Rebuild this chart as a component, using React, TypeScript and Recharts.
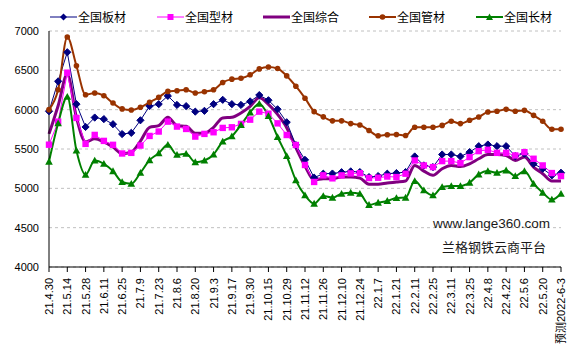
import React from "react";
import { LineChart, Line, XAxis, YAxis, CartesianGrid } from "recharts";

const categories: string[] = [
  "21.4.30", "21.5.7", "21.5.14", "21.5.21", "21.5.28", "21.6.4", "21.6.11", "21.6.18",
  "21.6.25", "21.7.2", "21.7.9", "21.7.16", "21.7.23", "21.7.30", "21.8.6", "21.8.13",
  "21.8.20", "21.8.27", "21.9.3", "21.9.10", "21.9.17", "21.9.24", "21.9.30", "21.10.8",
  "21.10.15", "21.10.22", "21.10.29", "21.11.5", "21.11.12", "21.11.19", "21.11.26", "21.12.3",
  "21.12.10", "21.12.17", "21.12.24", "21.12.31", "22.1.7", "22.1.14", "22.1.21", "22.1.28",
  "22.2.11", "22.2.18", "22.2.25", "22.3.4", "22.3.11", "22.3.18", "22.3.25", "22.4.1",
  "22.4.8", "22.4.15", "22.4.22", "22.4.29", "22.5.6", "22.5.13", "22.5.20", "22.5.27",
  "预测2022-6-3",
];

const plate: number[] = [
  5980, 6360, 6730, 6070, 5780, 5900, 5880, 5815, 5690, 5705, 5865, 6045, 6070, 6175, 6060, 6045,
  5975, 5985, 6070, 6125, 6070, 6060, 6105, 6185, 6120, 6005, 5840, 5550, 5362, 5136, 5186, 5188,
  5205, 5215, 5207, 5143, 5156, 5186, 5194, 5207, 5405, 5291, 5270, 5430, 5430, 5405, 5460, 5536,
  5557, 5536, 5536, 5410, 5440, 5312, 5249, 5165, 5198,
];

const section: number[] = [
  5555, 5848, 6470, 5895, 5565, 5679, 5603, 5553, 5443, 5451, 5544, 5666, 5722, 5848, 5785, 5755,
  5658, 5692, 5713, 5768, 5776, 5819, 5873, 5975, 5949, 5826, 5678, 5551, 5297, 5081, 5165, 5127,
  5165, 5190, 5192, 5131, 5135, 5150, 5143, 5186, 5354, 5291, 5270, 5346, 5346, 5321, 5397, 5473,
  5490, 5451, 5451, 5418, 5460, 5376, 5291, 5194, 5156,
];

const composite: number[] = [
  5692, 6050, 6450, 5900, 5590, 5630, 5590, 5525, 5440, 5460, 5600, 5776, 5797, 5903, 5797, 5789,
  5700, 5700, 5776, 5895, 5903, 5958, 6042, 6150, 6068, 5940, 5771, 5517, 5284, 5106, 5123, 5123,
  5144, 5144, 5130, 5051, 5051, 5068, 5080, 5093, 5291, 5219, 5165, 5249, 5291, 5278, 5312, 5376,
  5430, 5430, 5418, 5354, 5397, 5270, 5186, 5093, 5093,
];

const pipe: number[] = [
  6000, 6253, 6924, 6557, 6190, 6211, 6177, 6084, 6010, 5995, 6030, 6093, 6156, 6232, 6240, 6253,
  6211, 6228, 6253, 6346, 6388, 6400, 6443, 6518, 6543, 6524, 6429, 6298, 6146, 5975, 5909, 5858,
  5858, 5823, 5805, 5736, 5668, 5681, 5684, 5671, 5776, 5776, 5776, 5800, 5852, 5823, 5865, 5907,
  5970, 5979, 6004, 5979, 5991, 5928, 5852, 5751, 5751,
];

const longProd: number[] = [
  5340, 5827, 6165, 5481, 5173, 5354, 5312, 5219, 5080, 5059, 5198, 5358, 5447, 5553, 5426, 5439,
  5333, 5354, 5430, 5595, 5662, 5806, 5966, 6076, 5919, 5653, 5411, 5102, 4911, 4805, 4903, 4882,
  4932, 4945, 4932, 4790, 4818, 4840, 4878, 4882, 5093, 4975, 4911, 5017, 5030, 5030, 5072, 5177,
  5219, 5198, 5228, 5156, 5219, 5059, 4945, 4857, 4932,
];

const yTicks: number[] = [4000, 4500, 5000, 5500, 6000, 6500, 7000];

const seriesNames = ["全国板材", "全国型材", "全国综合", "全国管材", "全国长材"];

const data = categories.map((c, i) => ({
  date: c,
  plate: plate[i],
  section: section[i],
  composite: composite[i],
  pipe: pipe[i],
  longProd: longProd[i],
}));

const FONT = "'Liberation Sans', Arial, 'Noto Sans CJK SC', sans-serif";
const C_NAVY = "#000080";
const C_MAG = "#ff00ff";
const C_PUR = "#800080";
const C_BROWN = "#993300";
const C_GREEN = "#008000";

const Diamond = (props: any) => {
  const { cx, cy } = props;
  if (cx == null || cy == null) return null;
  const s = 3.6;
  return (
    <polygon
      key={`d${cx}`}
      points={`${cx},${cy - s} ${cx + s},${cy} ${cx},${cy + s} ${cx - s},${cy}`}
      fill={C_NAVY}
      stroke={C_NAVY}
    />
  );
};

const Square = (props: any) => {
  const { cx, cy } = props;
  if (cx == null || cy == null) return null;
  const s = 3.2;
  return <rect key={`s${cx}`} x={cx - s} y={cy - s} width={2 * s} height={2 * s} fill={C_MAG} />;
};

const Circ = (props: any) => {
  const { cx, cy } = props;
  if (cx == null || cy == null) return null;
  return <circle key={`c${cx}`} cx={cx} cy={cy} r={2.8} fill={C_BROWN} />;
};

const Tri = (props: any) => {
  const { cx, cy } = props;
  if (cx == null || cy == null) return null;
  const s = 3.8;
  return (
    <polygon
      key={`t${cx}`}
      points={`${cx},${cy - s} ${cx + s},${cy + s * 0.8} ${cx - s},${cy + s * 0.8}`}
      fill={C_GREEN}
    />
  );
};

const XTick = (props: any) => {
  const { x, y, payload } = props;
  return (
    <g transform={`translate(${x},${y})`}>
      <text
        x={0}
        y={0}
        dy={4}
        textAnchor="end"
        transform="rotate(-90)"
        fontSize={11}
        fill="#000"
        fontFamily={FONT}
      >
        {payload.value}
      </text>
    </g>
  );
};

const legendItems = [
  { name: seriesNames[0], color: C_NAVY, kind: "diamond", x: 50 },
  { name: seriesNames[1], color: C_MAG, kind: "square", x: 157 },
  { name: seriesNames[2], color: C_PUR, kind: "thick", x: 263 },
  { name: seriesNames[3], color: C_BROWN, kind: "circle", x: 369 },
  { name: seriesNames[4], color: C_GREEN, kind: "triangle", x: 476 },
];

const LegendIcon = ({ color, kind }: { color: string; kind: string }) => {
  const w = 27;
  const cy = 6;
  let marker: React.ReactNode = null;
  if (kind === "diamond")
    marker = <polygon points={`13.5,2.5 17,6 13.5,9.5 10,6`} fill={color} />;
  if (kind === "square") marker = <rect x={10.5} y={3} width={6} height={6} fill={color} />;
  if (kind === "circle") marker = <circle cx={13.5} cy={6} r={2.8} fill={color} />;
  if (kind === "triangle") marker = <polygon points={`13.5,2.5 17,9 10,9`} fill={color} />;
  return (
    <svg width={w} height={12} style={{ display: "block" }}>
      <line x1={0} y1={cy} x2={w} y2={cy} stroke={color} strokeWidth={kind === "thick" ? 3 : kind === "diamond" || kind === "square" ? 1 : 2} />
      {marker}
    </svg>
  );
};

export default function App() {
  return (
    <div style={{ position: "absolute", left: 0, top: 0, width: 580, height: 351, background: "#fff", fontFamily: FONT }}>
      <LineChart
        width={580}
        height={351}
        data={data}
        margin={{ top: 31, right: 19, bottom: 0, left: 0 }}
      >
        <CartesianGrid vertical={false} strokeDasharray="3 3" stroke="#c0c0c0" />
        <XAxis
          dataKey="date"
          interval={1}
          height={84}
          axisLine={{ stroke: "#000" }}
          tickLine={{ stroke: "#000" }}
          tickSize={5}
          tickMargin={6}
          tick={<XTick />}
          padding={{ left: 0, right: 0 }}
        />
        <YAxis
          domain={[4000, 7000]}
          ticks={yTicks}
          width={49}
          axisLine={{ stroke: "#000" }}
          tickLine={false}
          tickMargin={4}
          tick={{ fontSize: 11, fill: "#000", fontFamily: FONT }}
          allowDataOverflow
        />
        <Line
          type="monotone"
          dataKey="composite"
          name={seriesNames[2]}
          stroke={C_PUR}
          strokeWidth={3}
          dot={false}
          isAnimationActive={false}
        />
        <Line
          type="linear"
          dataKey="plate"
          name={seriesNames[0]}
          stroke={C_NAVY}
          strokeWidth={1}
          dot={<Diamond />}
          isAnimationActive={false}
        />
        <Line
          type="linear"
          dataKey="section"
          name={seriesNames[1]}
          stroke={C_MAG}
          strokeWidth={1}
          dot={<Square />}
          isAnimationActive={false}
        />
        <Line
          type="monotone"
          dataKey="pipe"
          name={seriesNames[3]}
          stroke={C_BROWN}
          strokeWidth={2}
          dot={<Circ />}
          isAnimationActive={false}
        />
        <Line
          type="monotone"
          dataKey="longProd"
          name={seriesNames[4]}
          stroke={C_GREEN}
          strokeWidth={2}
          dot={<Tri />}
          isAnimationActive={false}
        />
      </LineChart>
      {legendItems.map((it) => (
        <div
          key={it.name}
          style={{
            position: "absolute",
            left: it.x,
            top: 9,
            display: "flex",
            alignItems: "center",
            fontSize: 12,
            lineHeight: "16px",
            color: "#000",
            fontFamily: "'Noto Sans CJK SC', sans-serif",
            whiteSpace: "nowrap",
          }}
        >
          <LegendIcon color={it.color} kind={it.kind} />
          <span style={{ marginLeft: 1 }}>{it.name}</span>
        </div>
      ))}
      <div
        style={{
          position: "absolute",
          left: 433,
          top: 215,
          fontSize: 13.5,
          lineHeight: "17px",
          color: "#1a1a1a",
          fontFamily: "'Liberation Sans', Arial, sans-serif",
          whiteSpace: "nowrap",
        }}
      >
        www.lange360.com
      </div>
      <div
        style={{
          position: "absolute",
          left: 442,
          top: 238,
          fontSize: 13,
          lineHeight: "17px",
          color: "#1a1a1a",
          fontFamily: "'Noto Sans CJK SC', sans-serif",
          whiteSpace: "nowrap",
        }}
      >
        兰格钢铁云商平台
      </div>
    </div>
  );
}
